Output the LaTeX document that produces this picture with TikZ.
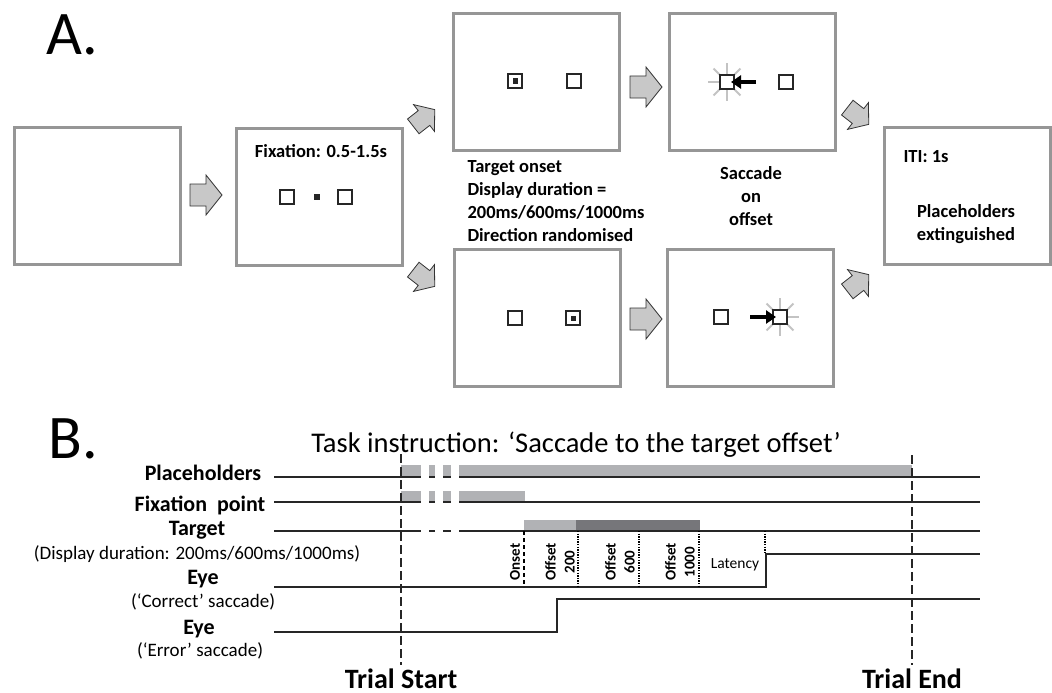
\documentclass[tikz,border=0pt]{standalone}
\usepackage{fontspec}
\setmainfont{Carlito}
\usetikzlibrary{arrows.meta,positioning,calc}
\definecolor{framegray}{RGB}{150,150,150}
\definecolor{bargray}{RGB}{177,178,181}
\definecolor{bardark}{RGB}{118,118,122}
\definecolor{blockfill}{RGB}{200,200,200}
\definecolor{burstgray}{RGB}{195,195,195}

\tikzset{
  screen/.style={draw=framegray,line width=3pt,minimum width=166pt,minimum height=137pt,inner sep=0pt},
  holder/.style={draw=black!85,line width=2.2pt,fill=white,minimum size=14pt,inner sep=0pt},
  saccarrow/.style={line width=4pt,-{Triangle[length=10pt,width=13pt]},shorten >=4pt},
  burst/.style={burstgray,line width=2pt},
  screentext/.style={font=\fontsize{18.5}{23}\selectfont\bfseries},
  panel/.style={font=\fontsize{62}{62}\selectfont,anchor=base west},
  rowlabel/.style={font=\fontsize{22}{26}\selectfont\bfseries,anchor=base},
  rownote/.style={font=\fontsize{19}{23}\selectfont,anchor=base},
  marklabel/.style={font=\fontsize{15}{19}\selectfont\bfseries,rotate=90,align=center},
  edgelabel/.style={font=\fontsize{28}{30}\selectfont\bfseries,anchor=base,inner sep=0pt},
  rowline/.style={line width=1.4pt,black!85},
  eyeline/.style={line width=1.8pt,black!85},
  trialedge/.style={line width=2.5pt,black!85,dash pattern=on 9pt off 4pt},
  stagearrow/.pic={
    \draw[fill=blockfill,draw=black!80,line width=0.8pt,line join=miter]
      (-16,-11) -- (0,-11) -- (0,-20) -- (16,0) -- (0,20) -- (0,11) -- (-16,11) -- cycle;
  }
}

\begin{document}
\begin{tikzpicture}[x=1pt,y=1pt]
  \useasboundingbox (0,0) rectangle (1052,-693);

  % ---- A: sequence of screens
  \node[panel] (labA) at (43,-55) {A.};
  \node[screen] (blank) at (97,-196) {};
  \node[screen] (fixation) at (319,-197) {};
  \node[screen] (cueup) at (536,-82) {};
  \node[screen] (cuedown) at (537,-318) {};
  \node[screen] (saccup) at (752,-82) {};
  \node[screen] (saccdown) at (750,-318) {};
  \node[screen] (iti) at (967,-196) {};

  \pic at (206,-195) {stagearrow};
  \pic[rotate=38,scale=.85] at (424,-118) {stagearrow};
  \pic[rotate=-38,scale=.85] at (424,-278) {stagearrow};
  \pic at (646,-87) {stagearrow};
  \pic at (646,-319) {stagearrow};
  \pic[rotate=-38,scale=.85] at (858,-116) {stagearrow};
  \pic[rotate=38,scale=.85] at (858,-283) {stagearrow};

  % fixation display
  \node[screentext] (fixtext) at (321,-151) {Fixation: 0.5-1.5s};
  \node[holder] (fixl) at (287,-197) {};
  \node[holder] (fixr) at (345,-197) {};
  \fill[black!85] (317,-197) ++(-2.75,-2.75) rectangle ++(5.5,5.5);

  % target displays
  \node[holder] (cul) at (515,-81) {};
  \node[holder] (cur) at (574,-81) {};
  \fill[black!85] (cul.center) ++(-2.5,-2.5) rectangle ++(5,5);
  \node[holder] (cdl) at (515,-318) {};
  \node[holder] (cdr) at (573,-318) {};
  \fill[black!85] (cdr.center) ++(-2.5,-2.5) rectangle ++(5,5);
  \node[screentext,anchor=north west,align=left] (cuetext) at (464,-157)
    {Target onset\\Display duration =\\200ms/600ms/1000ms\\Direction randomised};

  % saccade displays
  \foreach \a in {0,45,...,315} \draw[burst] (727,-82) -- ++(\a:19);
  \node[holder] (sul) at (727,-82) {};
  \node[holder] (sur) at (786,-82) {};
  \coordinate (gazeup) at (756,-82);
  \draw[saccarrow] (gazeup) -- (sul.center);
  \foreach \a in {0,45,...,315} \draw[burst] (780,-317) -- ++(\a:19);
  \node[holder] (sdl) at (721,-317) {};
  \node[holder] (sdr) at (780,-317) {};
  \coordinate (gazedown) at (750,-317);
  \draw[saccarrow] (gazedown) -- (sdr.center);
  \node[screentext,align=center] (sacctext) at (751,-196) {Saccade\\on\\offset};

  % inter-trial interval
  \node[screentext,anchor=west] (ititext) at (900,-157) {ITI: 1s};
  \node[screentext,align=center] (offtext) at (966,-224) {Placeholders\\extinguished};

  % ---- B: timing of one trial
  \node[panel] (labB) at (45,-458) {B.};
  \node[font=\fontsize{28.5}{30}\selectfont,anchor=base] (task) at (576,-452)
    {Task instruction: ‘Saccade to the target offset’};

  % stimulus bars
  \fill[bargray] (401,-465) rectangle (912,-477);
  \fill[bargray] (401,-491) rectangle (525,-502);
  \fill[bargray] (524,-520) rectangle (576,-531);
  \fill[bardark] (576,-520) rectangle (700,-531);
  \foreach \y in {477,502,531} \draw[rowline] (274,-\y) -- (980,-\y);
  % breaks in time
  \foreach \x in {421,435,451} {
    \fill[white] (\x,-463) rectangle (\x+8,-479);
    \fill[white] (\x,-489) rectangle (\x+8,-504);
    \fill[white] (\x,-529) rectangle (\x+8,-533);
  }

  % eye traces
  \draw[eyeline] (274,-587) -- (766,-587) -- (766,-554) -- (980,-554);
  \draw[eyeline] (274,-632) -- (557,-632) -- (557,-599) -- (980,-599);

  % onset, offsets and latency
  \draw[line width=1.3pt,dash pattern=on 4pt off 3pt] (524,-531) -- (524,-587);
  \foreach \x in {578,639,699}
    \draw[line width=1.3pt,dash pattern=on 1.3pt off 1.3pt] (\x,-531) -- (\x,-587);
  \draw[line width=1.3pt,dash pattern=on 1.3pt off 1.3pt] (765,-531) -- (765,-554);
  \node[marklabel] (onset) at (515,-562) {Onset};
  \node[marklabel] (off200) at (560,-562) {Offset\\200};
  \node[marklabel] (off600) at (620,-562) {Offset\\600};
  \node[marklabel] (off1000) at (680,-562) {Offset\\1000};
  \node[font=\fontsize{15.5}{19}\selectfont] (latency) at (735,-565) {Latency};

  % row labels
  \node[rowlabel] (lph) at (203,-480) {Placeholders};
  \node[rowlabel] (lfp) at (200,-511) {Fixation\ \ point};
  \node[rowlabel] (ltg) at (197,-535) {Target};
  \node[rownote] (ldd) at (197,-559) {(Display duration: 200ms/600ms/1000ms)};
  \node[rowlabel] (le1) at (203,-584) {Eye};
  \node[rownote] (lc) at (203,-607) {(‘Correct’ saccade)};
  \node[rowlabel] (le2) at (199,-634) {Eye};
  \node[rownote] (lerr) at (200,-656) {(‘Error’ saccade)};

  % trial start and end
  \draw[trialedge] (401,-454) -- (401,-665);
  \draw[trialedge] (912,-455) -- (912,-665);
  \node[edgelabel] (tstart) at (401,-688) {Trial Start};
  \node[edgelabel] (tend) at (912,-688) {Trial End};
\end{tikzpicture}
\end{document}
